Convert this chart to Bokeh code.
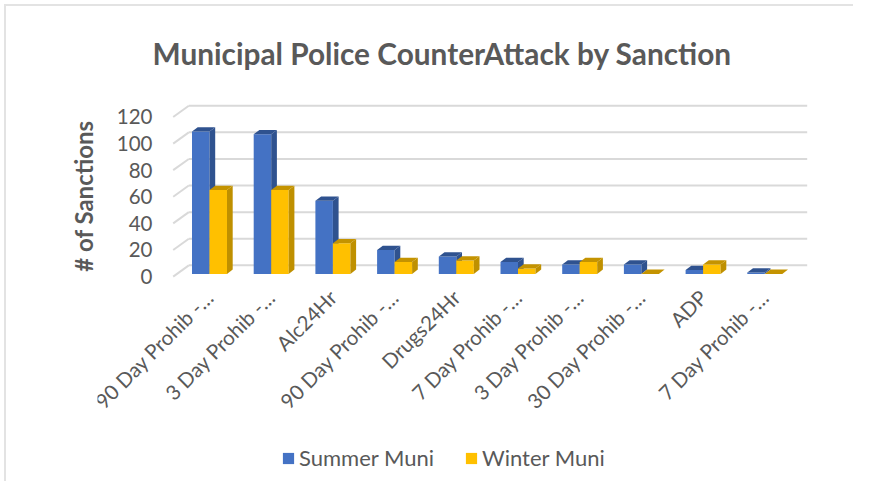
import numpy as np
from bokeh.plotting import figure
from bokeh.models import FixedTicker, Legend, LegendItem, Range1d, Title
from bokeh.embed import file_html
from bokeh.resources import INLINE

# ---------------- data ----------------
categories = ["90 Day Prohib -…", "3 Day Prohib -…", "Alc24Hr", "90 Day Prohib -…",
              "Drugs24Hr", "7 Day Prohib -…", "3 Day Prohib -…", "30 Day Prohib -…",
              "ADP", "7 Day Prohib -…"]
summer = [107, 105, 55, 18, 13, 9, 7, 7, 3, 1]
winter = [63, 63, 23, 9, 10, 4, 9, 0, 7, 0]
y_ticks = [0, 20, 40, 60, 80, 100, 120]
series_names = ["Summer Muni", "Winter Muni"]

# ---------------- layout (reference pixel coordinates) ----------------
W, H = 853, 481
FRAME_L, FRAME_R, FRAME_T, FRAME_B = 97, 812, 101, 480
AXIS_X_REF = 160             # where the value axis sits
AXIS_Y_REF = 280             # where the category axis sits
X0_REF, PX_X = 209.0, 61.7   # category 0 centre, px per category
Y0_REF, PX_Y = 275.0, 1.337  # value 0 on front plane, px per unit

TEXT = "#595959"
FONT = "Lato"
GRID = "#d9d9d9"
COLORS = [("#4472C4", "#2F528F", "#2F528F"), ("#FFC000", "#BF9000", "#C49300")]

x_range = Range1d((FRAME_L - X0_REF) / PX_X, (FRAME_R - X0_REF) / PX_X)
y_range = Range1d(-(FRAME_B - Y0_REF) / PX_Y, (Y0_REF - FRAME_T) / PX_Y)

p = figure(width=W, height=H, x_range=x_range, y_range=y_range,
           output_backend="svg", toolbar_location=None,
           min_border_left=FRAME_L, min_border_right=W - FRAME_R,
           min_border_top=FRAME_T, min_border_bottom=H - FRAME_B)
p.outline_line_color = None
p.xgrid.visible = False
p.ygrid.visible = False
p.background_fill_color = "white"
p.border_fill_alpha = 0
p.styles = {"box-shadow": "inset 4px 4px 0 0 white, inset 6px 6px 0 0 #e3e3e3",
            "background-color": "white"}

# title
p.title.text = "Municipal Police CounterAttack by Sanction"
p.title.align = "left"
p.title.offset = 152 - FRAME_L
p.title.text_font = FONT
p.title.text_font_size = "29.8px"
p.title.text_font_style = "bold"
p.title.text_color = TEXT
p.title.standoff = 66

# y axis (fixed at the left wall of the 3-D box)
p.yaxis.fixed_location = (AXIS_X_REF - X0_REF) / PX_X
p.yaxis.ticker = FixedTicker(ticks=y_ticks)
p.yaxis.axis_line_color = None
p.yaxis.major_tick_line_color = None
p.yaxis.minor_tick_line_color = None
p.yaxis.major_tick_out = 0
p.yaxis.major_label_standoff = 8
p.yaxis.major_label_text_font = FONT
p.yaxis.major_label_text_font_size = "20.5px"
p.yaxis.major_label_text_color = TEXT

ytitle = Title(text="# of Sanctions", align="right", offset=17, standoff=0,
               text_font=FONT, text_font_size="24px", text_font_style="bold",
               text_color=TEXT)
p.add_layout(ytitle, "left")

# x axis (category axis fixed just under the bars)
idx = np.arange(len(categories))
p.xaxis.fixed_location = -(AXIS_Y_REF - Y0_REF) / PX_Y
p.xaxis.ticker = FixedTicker(ticks=list(idx))
p.xaxis.major_label_overrides = {int(i): c for i, c in zip(idx, categories)}
p.xaxis.major_label_orientation = np.pi / 4
p.xaxis.axis_line_color = None
p.xaxis.major_tick_line_color = None
p.xaxis.minor_tick_line_color = None
p.xaxis.major_tick_out = 0
p.xaxis.major_label_standoff = 12
p.xaxis.major_label_text_font = FONT
p.xaxis.major_label_text_font_size = "20.5px"
p.xaxis.major_label_text_color = TEXT

# 3-D walls: back gridlines and left-wall diagonals
wall_dx = 15.6 / PX_X
wall_dy = 11.3 / PX_Y
front_left = (172.7 - X0_REF) / PX_X
back_right = (806.7 - X0_REF) / PX_X
gv = np.array(y_ticks, dtype=float)
p.segment(x0=front_left + wall_dx, y0=gv + wall_dy, x1=back_right, y1=gv + wall_dy,
          line_color=GRID, line_width=2)
p.segment(x0=front_left, y0=gv, x1=front_left + wall_dx, y1=gv + wall_dy,
          line_color=GRID, line_width=2)

# 3-D bars
bw = 17.5 / PX_X
bdx = 5.7 / PX_X
bdy = 4.3 / PX_Y
base = 2.7 / PX_Y
fronts = []
for k, vals in enumerate([summer, winter]):
    v = np.array(vals, dtype=float)
    left = idx - bw + k * bw
    right = left + bw
    bottom = np.full_like(v, base)
    top = base + v
    face, side, cap = COLORS[k]
    r = p.quad(left=left, right=right, bottom=bottom, top=top,
               fill_color=face, line_color=None)
    fronts.append(r)
    p.patches(xs=[[rr, rr + bdx, rr + bdx, rr] for rr in right],
              ys=[[b, b + bdy, t + bdy, t] for b, t in zip(bottom, top)],
              fill_color=side, line_color=None)
    p.patches(xs=[[ll, ll + bdx, rr + bdx, rr] for ll, rr in zip(left, right)],
              ys=[[t, t + bdy, t + bdy, t] for t in top],
              fill_color=cap, line_color=None)

legend = Legend(items=[LegendItem(label=n, renderers=[r]) for n, r in zip(series_names, fronts)],
                orientation="horizontal", location=(281 - FRAME_L, FRAME_B - 471),
                padding=0, margin=0, spacing=30, glyph_width=14, glyph_height=14,
                label_height=22, label_standoff=4, label_text_font=FONT,
                label_text_font_size="22px", label_text_color=TEXT,
                border_line_color=None, background_fill_alpha=0)
p.add_layout(legend, "center")

open("out.html", "w").write(file_html(p, INLINE))
